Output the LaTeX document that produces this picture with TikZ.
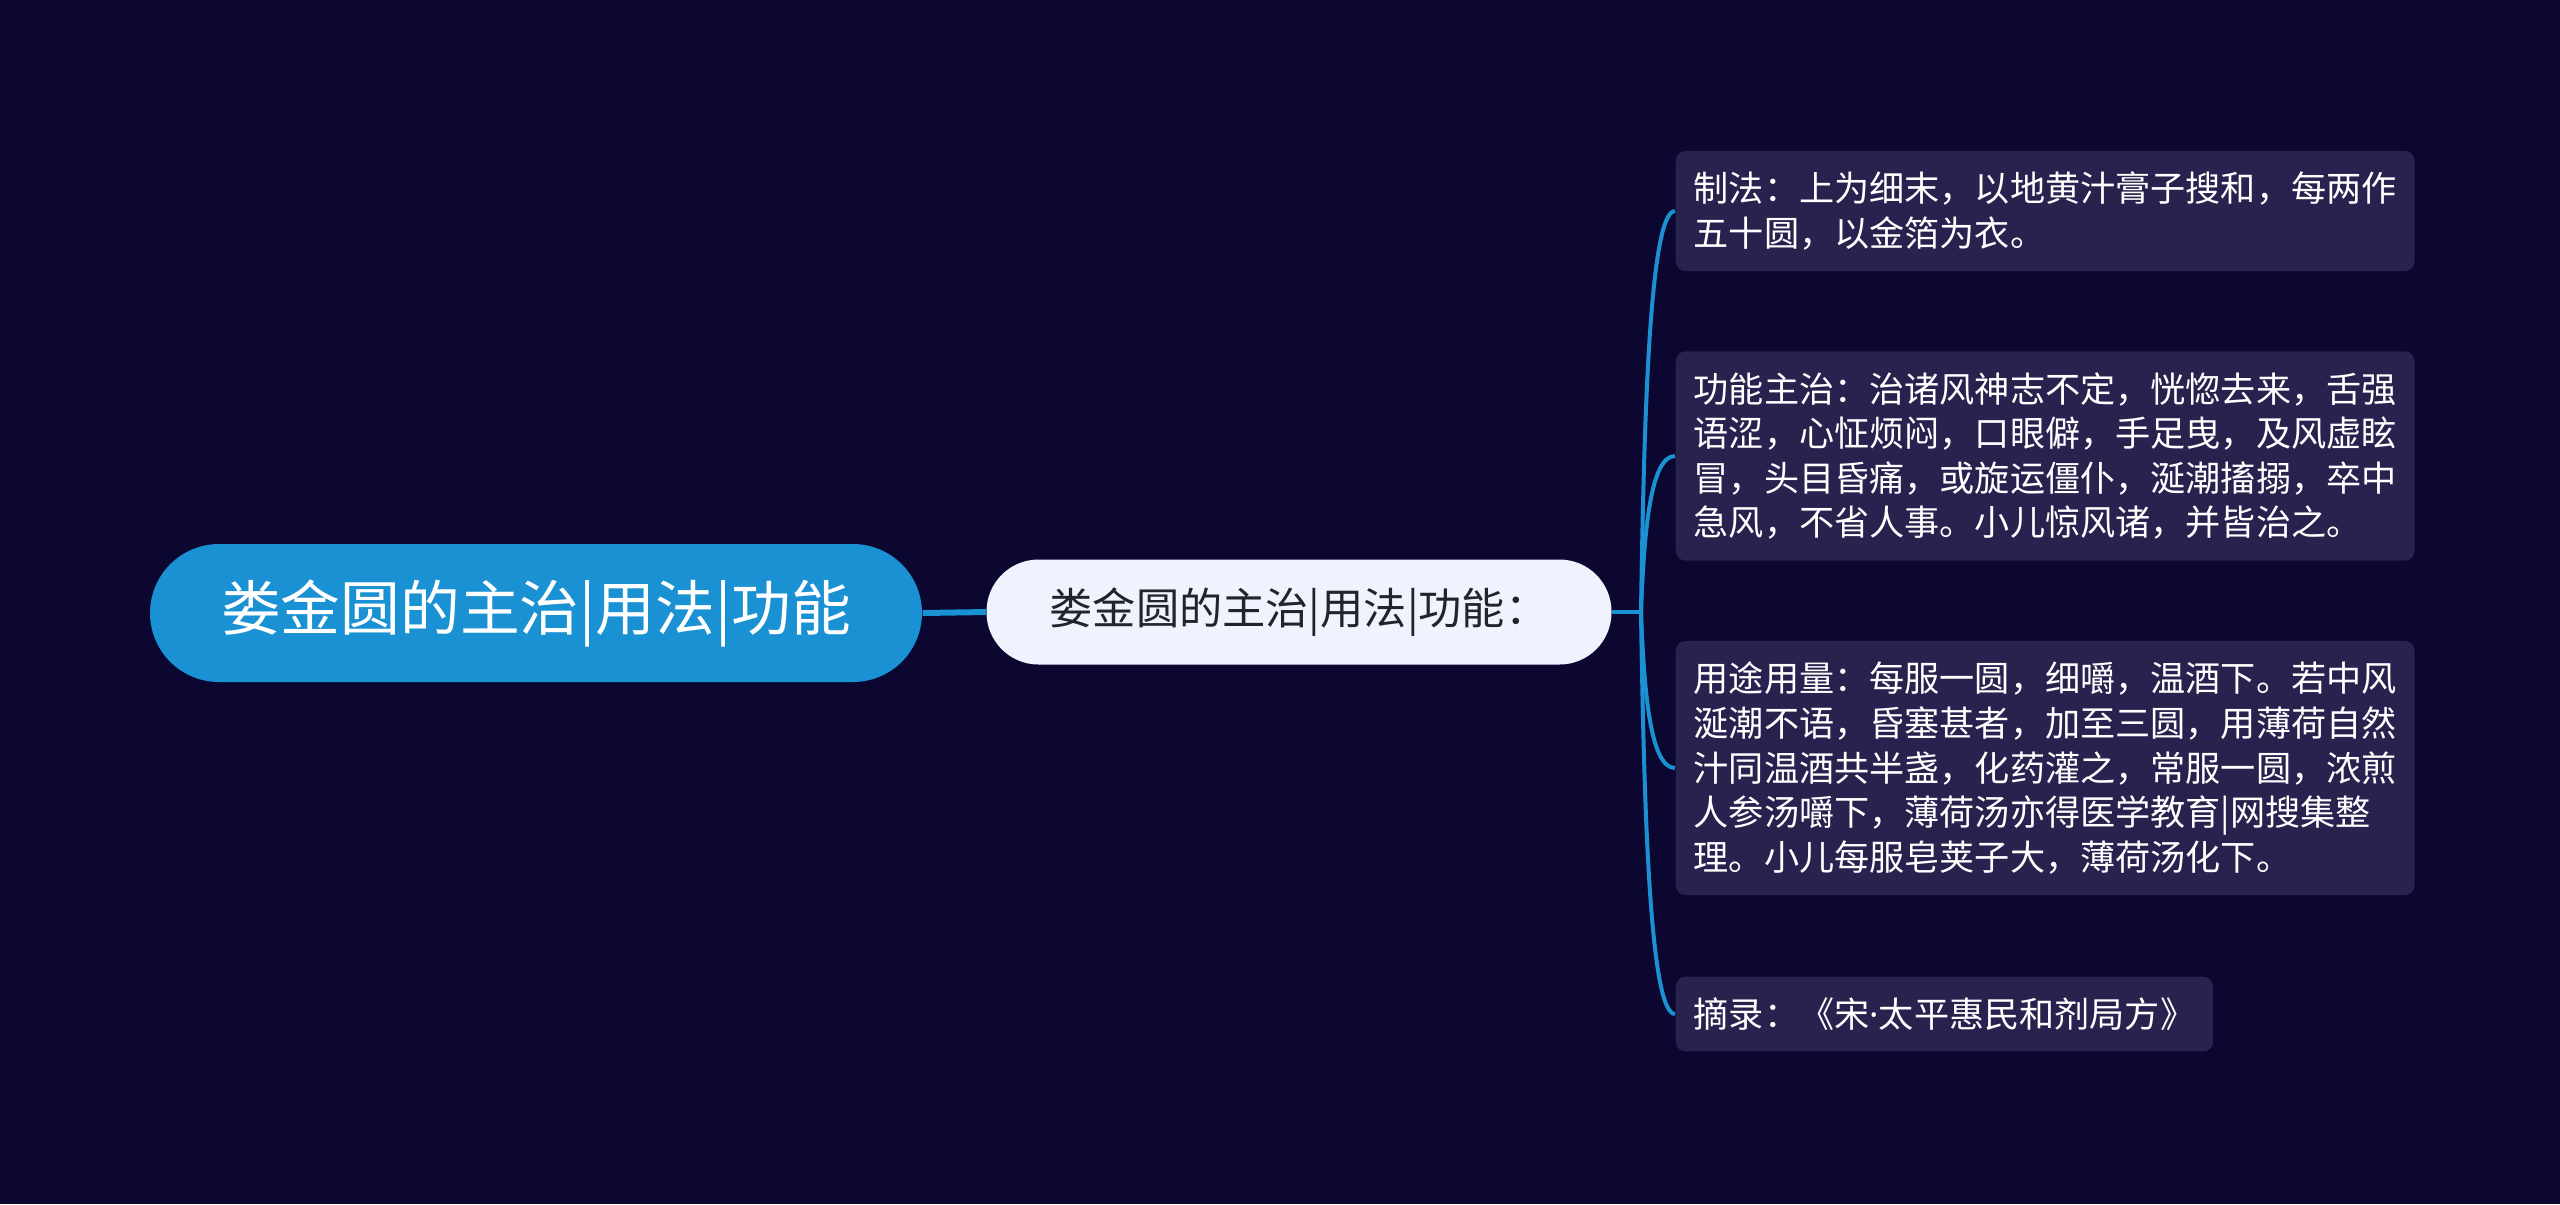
\documentclass[tikz,border=0pt]{standalone}
\usepackage{fontspec}
\setmainfont{Noto Sans CJK SC}
\newfontfamily\latinfont{Noto Sans}
\usetikzlibrary{calc}

\definecolor{bgdark}{RGB}{12,7,48}
\definecolor{rootblue}{RGB}{26,145,210}
\definecolor{midwhite}{RGB}{238,243,253}
\definecolor{leafviolet}{RGB}{39,34,78}
\definecolor{midtext}{RGB}{35,35,45}

\begin{document}
\begin{tikzpicture}[x=0.1mm, y=-0.1mm,
                    root/.style={fill=rootblue,text=white,rounded corners=6.9mm,minimum width=77.2mm,minimum height=13.8mm,font=\fontsize{17pt}{20pt}\selectfont},
                    middle/.style={fill=midwhite,text=midtext,rounded corners=5.2mm,minimum width=62.5mm,minimum height=10.5mm,font=\fontsize{12.3pt}{15pt}\selectfont},
                    leaf/.style={fill=leafviolet,text=white,rounded corners=1mm,anchor=west,align=left,inner xsep=1.8mm,inner ysep=2.1mm,font=\fontsize{10pt}{12.7pt}\selectfont},
                    trunk/.style={draw=rootblue,line width=0.6mm},
                    branch/.style={draw=rootblue,line width=0.4mm}]
  \fill[bgdark] (0,0) rectangle (2560,1204);
  \useasboundingbox (0,0) rectangle (2560,1204);

  \node[root] (topic) at (536,613) {娄金圆的主治|用法|功能};
  \node[middle] (sub) at (1299,612) {娄金圆的主治|用法|功能：};

  \node[leaf] (making) at (1675,211) {制法：上为细末，以地黄汁膏子搜和，每两作\\五十圆，以金箔为衣。};
  \node[leaf] (effect) at (1675,456) {功能主治：治诸风神志不定，恍惚去来，舌强\\语涩，心怔烦闷，口眼僻，手足曳，及风虚眩\\冒，头目昏痛，或旋运僵仆，涎潮搐搦，卒中\\急风，不省人事。小儿惊风诸，并皆治之。};
  \node[leaf] (usage) at (1675,768) {用途用量：每服一圆，细嚼，温酒下。若中风\\涎潮不语，昏塞甚者，加至三圆，用薄荷自然\\汁同温酒共半盏，化药灌之，常服一圆，浓煎\\人参汤嚼下，薄荷汤亦得医学教育|网搜集整\\理。小儿每服皂荚子大，薄荷汤化下。};
  \node[leaf] (source) at (1675,1014) {摘录：《宋{\latinfont ·}太平惠民和剂局方》};

  \coordinate (fork) at (1641,612);
  \draw[trunk] (topic.east) -- (sub.west);
  \draw[branch] (sub.east) -- (fork);

  % curved branches to the leaves
  \foreach \leafname in {making,effect,usage,source}
    \draw[branch] (fork) .. controls ($(fork)!0.5!(fork |- \leafname.west)+(3,0)$) and ($(fork |- \leafname.west)+(9,0)$) .. (\leafname.west);
\end{tikzpicture}
\end{document}
